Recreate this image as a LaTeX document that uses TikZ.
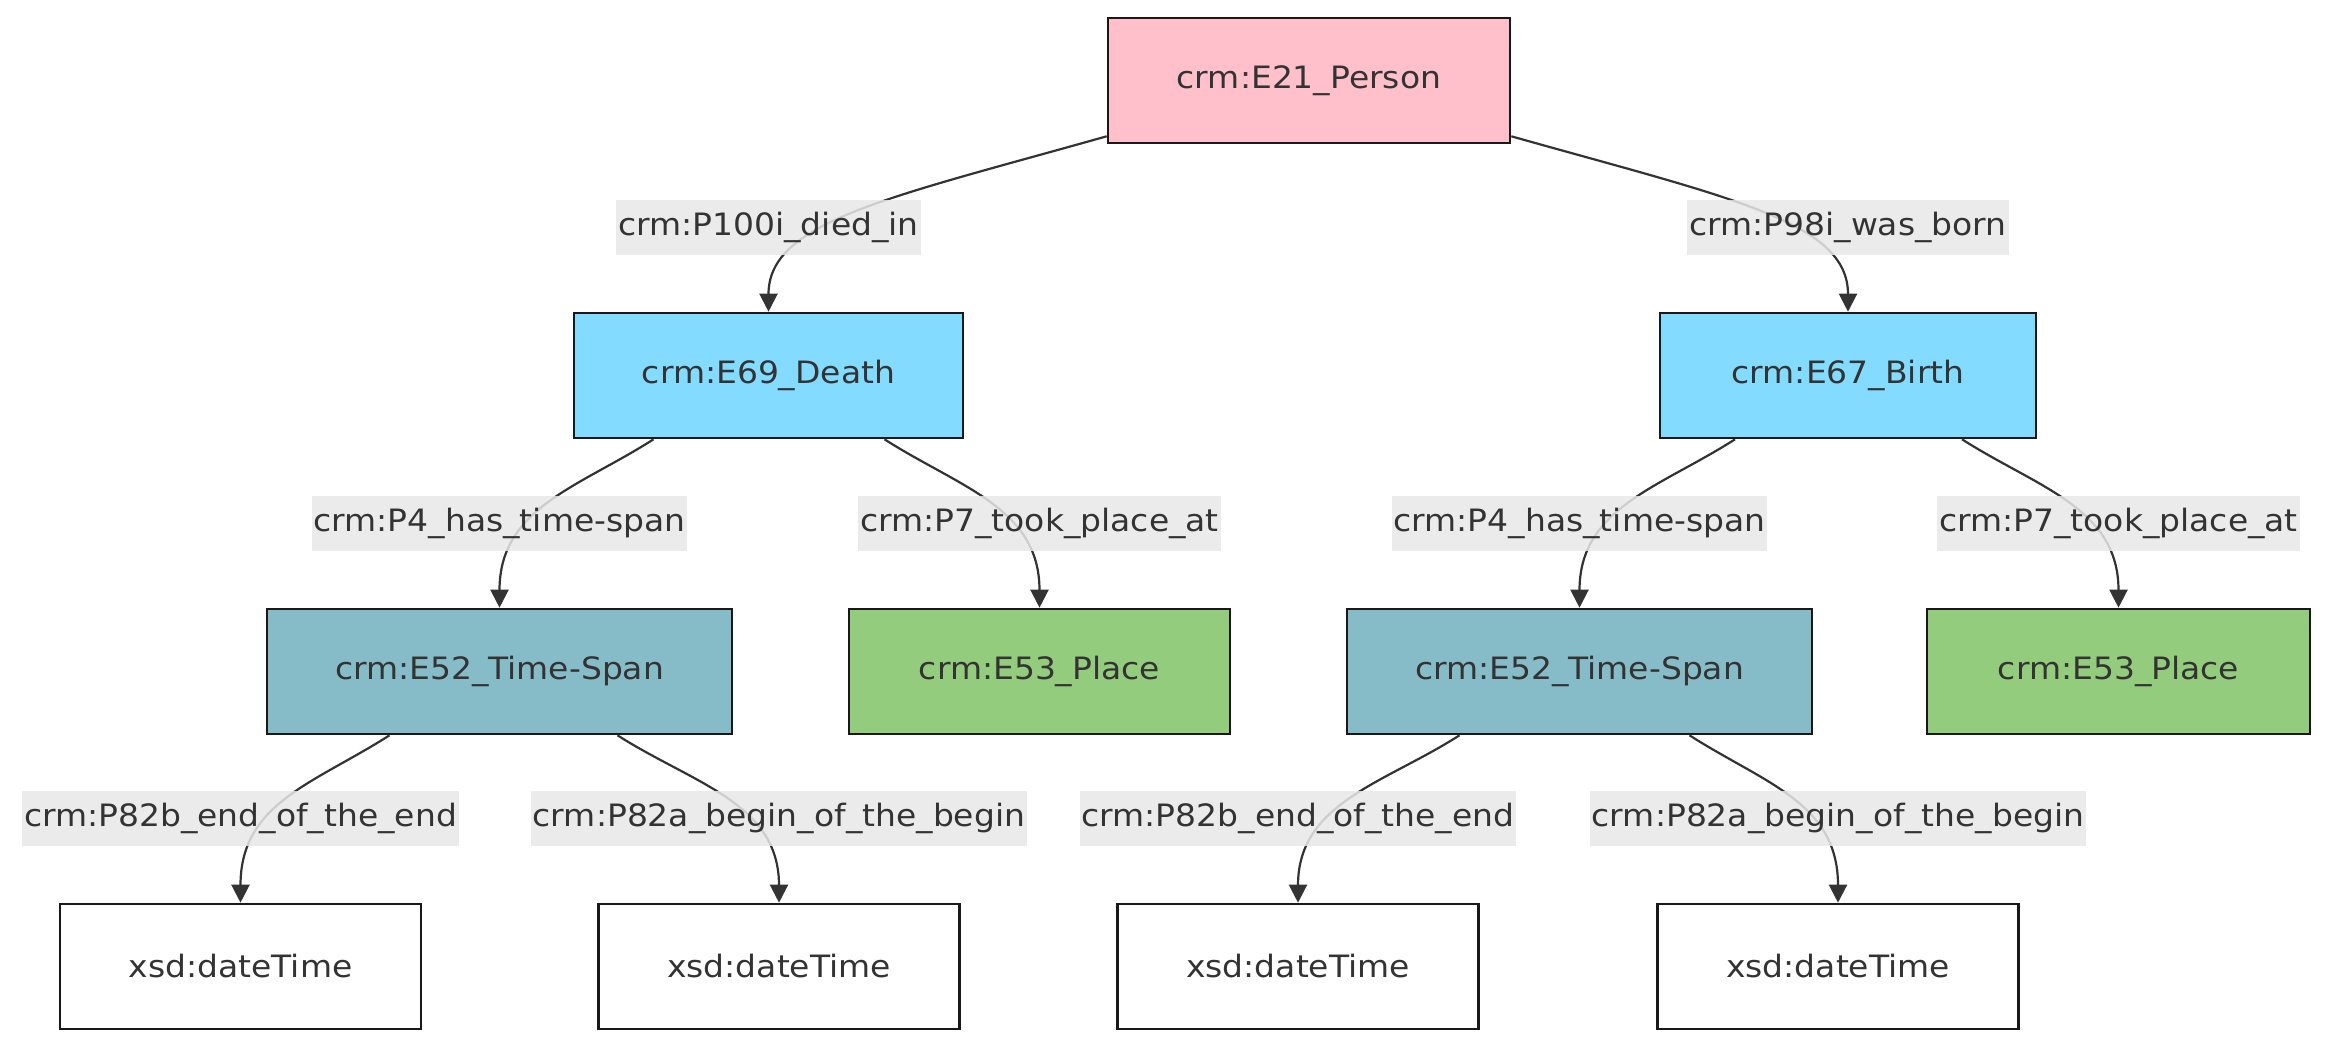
\documentclass[tikz,border=0pt]{standalone}
\usepackage{fontspec}
\setmainfont[FakeStretch=1.07]{DejaVu Sans}
\usetikzlibrary{arrows.meta,calc}
\definecolor{txt}{HTML}{333333}
\definecolor{edgec}{HTML}{333333}
\definecolor{lblbg}{HTML}{E8E8E8}
\definecolor{pinkc}{HTML}{FFC0CB}
\definecolor{eventc}{HTML}{83DCFF}
\definecolor{spanc}{HTML}{86BCC8}
\definecolor{placec}{HTML}{94CC7D}
\tikzset{
  box/.style={draw=black!90, line width=1.3pt, inner sep=0pt, minimum height=62.5pt, text=txt},
  person/.style={box, fill=pinkc},
  event/.style={box, fill=eventc},
  span/.style={box, fill=spanc},
  place/.style={box, fill=placec},
  literal/.style={box, fill=white},
  edge/.style={draw=edgec, line width=1.1pt, -{Triangle[length=9pt,width=9pt]}},
  lbl/.style={fill=lblbg, fill opacity=0.85, text opacity=1, text=txt, inner xsep=1pt, inner ysep=0pt, minimum height=27.5pt}
}
\begin{document}
\begin{tikzpicture}[x=0.5pt,y=-0.5pt, font=\fontsize{15.4}{18}\selectfont]
\useasboundingbox (0,0) rectangle (2352,1059);
% nodes
\node[person, minimum width=201pt] (p) at (1309,80.5) {crm:E21\_Person};
\node[event, minimum width=194.5pt] (d) at (768.5,375.5) {crm:E69\_Death};
\node[event, minimum width=188pt] (b) at (1848,375.5) {crm:E67\_Birth};
\node[span, minimum width=232.5pt] (t1) at (499.5,671.5) {crm:E52\_Time-Span};
\node[place, minimum width=190.5pt] (pl1) at (1039.5,671.5) {crm:E53\_Place};
\node[span, minimum width=232.5pt] (t2) at (1579.5,671.5) {crm:E52\_Time-Span};
\node[place, minimum width=191.5pt] (pl2) at (2118.5,671.5) {crm:E53\_Place};
\node[literal, minimum width=180.5pt] (x1) at (240.5,966.5) {xsd:dateTime};
\node[literal, minimum width=180.5pt] (x2) at (779,966.5) {xsd:dateTime};
\node[literal, minimum width=180.5pt] (x3) at (1298,966.5) {xsd:dateTime};
\node[literal, minimum width=180.5pt] (x4) at (1838,966.5) {xsd:dateTime};
% edges
\draw[edge] ($(p.south west)+(0,-8)$) .. controls +(-220,62) and +(0,-90) .. (d.north);
\draw[edge] ($(p.south east)+(0,-8)$) .. controls +(220,62) and +(0,-90) .. (b.north);
\draw[edge] ($(d.south)+(-115,0)$) .. controls +(-75,48) and +(0,-100) .. (t1.north);
\draw[edge] ($(d.south)+(116,0)$) .. controls +(75,48) and +(0,-100) .. (pl1.north);
\draw[edge] ($(b.south)+(-113,0)$) .. controls +(-75,48) and +(0,-100) .. (t2.north);
\draw[edge] ($(b.south)+(114,0)$) .. controls +(75,48) and +(0,-100) .. (pl2.north);
\draw[edge] ($(t1.south)+(-110,0)$) .. controls +(-75,48) and +(0,-100) .. (x1.north);
\draw[edge] ($(t1.south)+(118,0)$) .. controls +(75,48) and +(0,-100) .. (x2.north);
\draw[edge] ($(t2.south)+(-120,0)$) .. controls +(-75,48) and +(0,-100) .. (x3.north);
\draw[edge] ($(t2.south)+(110,0)$) .. controls +(75,48) and +(0,-100) .. (x4.north);
% labels
\node[lbl] (l1) at ($(d.north)+(0,-84)$) {crm:P100i\_died\_in};
\node[lbl] (l2) at ($(b.north)+(0,-84)$) {crm:P98i\_was\_born};
\node[lbl] (l3) at ($(t1.north)+(0,-84)$) {crm:P4\_has\_time-span};
\node[lbl] (l4) at ($(pl1.north)+(0,-84)$) {crm:P7\_took\_place\_at};
\node[lbl] (l5) at ($(t2.north)+(0,-84)$) {crm:P4\_has\_time-span};
\node[lbl] (l6) at ($(pl2.north)+(0,-84)$) {crm:P7\_took\_place\_at};
\node[lbl] (l7) at ($(x1.north)+(0,-84)$) {crm:P82b\_end\_of\_the\_end};
\node[lbl] (l8) at ($(x2.north)+(0,-84)$) {crm:P82a\_begin\_of\_the\_begin};
\node[lbl] (l9) at ($(x3.north)+(0,-84)$) {crm:P82b\_end\_of\_the\_end};
\node[lbl] (l10) at ($(x4.north)+(0,-84)$) {crm:P82a\_begin\_of\_the\_begin};
\end{tikzpicture}
\end{document}
